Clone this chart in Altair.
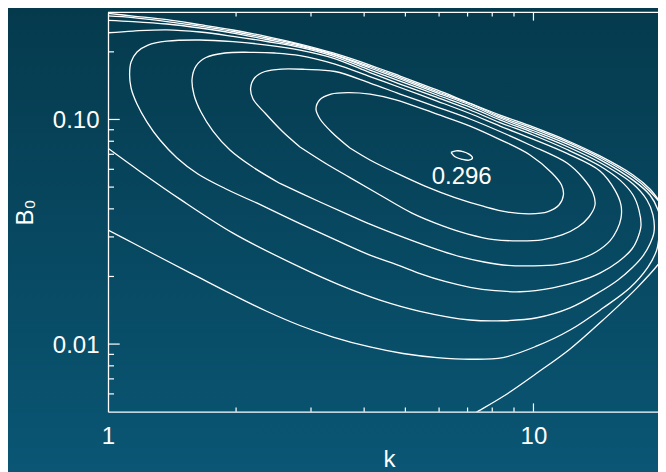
import altair as alt
import pandas as pd

# ---- contour lines (k, B0) ----
A_k = [6.398, 6.575, 6.829, 7.054, 7.19, 7.054, 6.792, 6.539, 6.398]
A_b = [0.0713, 0.0725, 0.0720, 0.0701, 0.0674, 0.0659, 0.0665, 0.0682, 0.0713]

B_k = [3.704, 3.361, 3.150, 3.082, 3.150, 3.343, 3.664, 4.128, 4.727, 5.932, 7.095, 8.343, 9.813,
       11.05, 11.64, 11.76, 11.48, 10.82, 9.813, 8.711, 7.651, 6.539, 5.559, 4.727, 4.128, 3.704]
B_b = [0.0746, 0.0875, 0.1005, 0.1113, 0.1227, 0.1298, 0.1318, 0.1298, 0.1227, 0.1057, 0.0935, 0.0814, 0.0695,
       0.0578, 0.0511, 0.0461, 0.0416, 0.0389, 0.0380, 0.0387, 0.0410, 0.0449, 0.0505, 0.0581, 0.0660, 0.0746]

C_k = [2.826, 2.564, 2.339, 2.192, 2.164, 2.215, 2.339, 2.564, 2.904, 3.416, 4.128, 4.857, 5.932, 7.095,
       8.343, 9.813, 11.99, 13.07, 13.80, 13.95, 13.50, 12.72, 11.67, 10.47, 9.196, 8.076, 7.017, 6.095,
       5.182, 4.358, 3.704, 3.236, 2.826]
C_b = [0.0754, 0.0888, 0.1068, 0.1233, 0.1381, 0.1537, 0.1635, 0.1677, 0.1672, 0.1635, 0.1453, 0.1298, 0.1136,
       0.1005, 0.0884, 0.0770, 0.0640, 0.0549, 0.0471, 0.0416, 0.0368, 0.0332, 0.0306, 0.0291, 0.0288, 0.0292,
       0.0309, 0.0337, 0.0383, 0.0461, 0.0551, 0.0640, 0.0754]

D_k = [2.536, 2.180, 1.935, 1.765, 1.654, 1.593, 1.576, 1.610, 1.699, 1.884, 2.157, 2.468, 2.826, 3.416,
       4.128, 4.857, 5.932, 7.095, 8.343, 9.972, 11.99, 14.33, 15.54, 16.06, 16.06, 15.71, 15.13, 14.02,
       12.72, 11.36, 9.972, 8.711, 7.651, 6.719, 5.923, 4.989, 4.128, 3.704, 3.150, 2.536]
D_b = [0.0519, 0.0617, 0.0731, 0.0888, 0.1079, 0.1285, 0.1514, 0.1729, 0.1887, 0.1977, 0.1991, 0.1977, 0.1926,
       0.1765, 0.1553, 0.1388, 0.1208, 0.1063, 0.0935, 0.0818, 0.0706, 0.0590, 0.0485, 0.0416, 0.0364, 0.0322,
       0.0288, 0.0257, 0.0237, 0.0226, 0.0223, 0.0224, 0.0232, 0.0245, 0.0264, 0.0297, 0.0342, 0.0374, 0.0429,
       0.0519]

E_k = [2.236, 1.884, 1.627, 1.453, 1.325, 1.235, 1.170, 1.133, 1.124, 1.133, 1.170, 1.242, 1.374, 1.645,
       1.967, 2.364, 2.826, 3.380, 4.128, 4.857, 5.932, 7.095, 8.343, 9.972, 11.99, 14.33, 15.97, 17.14,
       17.70, 17.89, 17.51, 17.04, 15.80, 14.33, 12.86, 11.11, 9.296, 8.120, 7.095, 6.194, 5.411, 4.857,
       4.128, 3.510, 2.826, 2.236]
E_b = [0.0425, 0.0493, 0.0572, 0.0674, 0.0810, 0.0974, 0.1172, 0.1381, 0.1593, 0.1802, 0.1997, 0.2145, 0.2231,
       0.2258, 0.2219, 0.2145, 0.2038, 0.1877, 0.1618, 0.1438, 0.1253, 0.1102, 0.0969, 0.0853, 0.0735, 0.0621,
       0.0537, 0.0461, 0.0395, 0.0335, 0.0291, 0.0265, 0.0232, 0.0207, 0.0191, 0.0178, 0.0171, 0.0173, 0.0179,
       0.0190, 0.0206, 0.0223, 0.0249, 0.0285, 0.0344, 0.0425]

F_k = [1.000, 1.145, 1.374, 1.645, 1.967, 2.364, 2.826, 3.380, 4.128, 4.857, 5.932, 7.095, 8.343, 9.972,
       11.99, 14.33, 17.14, 18.48, 19.09, 19.20, 18.78, 18.09, 17.04, 15.80, 14.33, 12.19, 10.19, 8.479,
       7.095, 5.411, 4.358, 3.510, 2.826, 1.967, 1.476, 1.189, 1.000]
F_b = [0.2433, 0.2476, 0.2507, 0.2451, 0.2345, 0.2224, 0.2095, 0.1916, 0.1660, 0.1483, 0.1285, 0.1136, 0.0995,
       0.0875, 0.0758, 0.0643, 0.0516, 0.0438, 0.0376, 0.0315, 0.0279, 0.0247, 0.0218, 0.0193, 0.0171, 0.0145,
       0.0131, 0.0127, 0.0128, 0.0140, 0.0157, 0.0183, 0.0220, 0.0312, 0.0442, 0.0587, 0.0744]

G_k = [1.000, 1.145, 1.376, 1.645, 1.967, 2.364, 2.826, 3.380, 4.128, 4.857, 5.932, 7.095, 8.343, 9.972,
       11.99, 14.33, 17.14, 18.78, 19.62, 19.94, 19.72, 19.48, 18.58, 16.86, 14.59, 12.19, 10.19, 8.479,
       7.095, 5.932, 4.935, 4.128, 3.380, 2.826, 2.360, 1.970, 1.645, 1.374, 1.147, 1.000]
G_b = [0.2763, 0.2729, 0.2661, 0.2554, 0.2426, 0.2270, 0.2123, 0.1946, 0.1695, 0.1514, 0.1312, 0.1160, 0.1015,
       0.0893, 0.0778, 0.0663, 0.0537, 0.0461, 0.0395, 0.0339, 0.0297, 0.0262, 0.0220, 0.0178, 0.0145, 0.01155,
       0.00981, 0.00871, 0.00856, 0.00871, 0.00908, 0.00971, 0.01075, 0.01210, 0.0140, 0.01654, 0.0197, 0.0235,
       0.0281, 0.0322]

H_k = [1.000, 1.145, 1.376, 1.645, 1.967, 2.364, 2.826, 3.380, 4.128, 4.857, 5.932, 7.095, 8.343, 9.972,
       11.99, 14.33, 17.14, 18.78, 19.83, 20.37, 20.59, 20.37, 19.83, 17.51, 14.57, 12.19, 10.19, 8.479,
       7.328, 7.095]
H_b = [0.2893, 0.2843, 0.2729, 0.2602, 0.2464, 0.2305, 0.2145, 0.1956, 0.1721, 0.1537, 0.1332, 0.1178, 0.1030,
       0.0912, 0.0794, 0.0677, 0.0554, 0.0478, 0.0425, 0.0376, 0.0306, 0.0257, 0.0232, 0.0178, 0.0128, 0.00951,
       0.00743, 0.00584, 0.00496, 0.00478]

J_k = [1.000, 1.145, 1.376, 1.645, 1.967, 2.364, 2.826, 3.380, 4.128, 4.857, 5.932, 6.979, 8.343, 9.972,
       11.99, 14.33, 17.14, 18.78, 20.16, 20.93]
J_b = [0.2970, 0.2887, 0.2780, 0.2642, 0.2502, 0.2340, 0.2167, 0.1977, 0.1747, 0.1561, 0.1353, 0.1196, 0.1046,
       0.0926, 0.0806, 0.0688, 0.0566, 0.0490, 0.0412, 0.0372]

# annotation of the maximum
label_k = [6.78]
label_b = [0.0516]
label_text = ["0.296"]

# axis tick values
x_major = [10]
x_minor = [2, 3, 4, 5, 6, 7, 8, 9]
y_major = [0.01, 0.1]
y_minor = [0.006, 0.007, 0.008, 0.009, 0.02, 0.03, 0.04, 0.05, 0.06, 0.07, 0.08, 0.09, 0.2]
x_labels = [1, 10]
y_labels = [0.01, 0.1]

contours = {"A": (A_k, A_b), "B": (B_k, B_b), "C": (C_k, C_b), "D": (D_k, D_b), "E": (E_k, E_b),
            "F": (F_k, F_b), "G": (G_k, G_b), "H": (H_k, H_b), "J": (J_k, J_b)}
rows = []
for name, (ks, bs) in contours.items():
    for i, (kv, bv) in enumerate(zip(ks, bs)):
        rows.append({"c": name, "i": i, "k": kv, "B": bv})
lines_df = pd.DataFrame(rows)
label_df = pd.DataFrame({"k": label_k, "B": label_b, "t": label_text})

W, H = 550, 399.4
FONT = "Liberation Sans"
WHITE = "#ffffff"

xscale = alt.Scale(type="log", domain=[1, 19.62], nice=False)
yscale = alt.Scale(type="log", domain=[0.005, 0.3], nice=False)

x_axis = alt.Axis(values=x_labels, format="d", labelFontSize=24, labelFont=FONT, labelColor=WHITE,
                  labelPadding=12.6, ticks=False, tickSize=0, grid=False, domain=True,
                  domainColor=WHITE, domainWidth=1.3, labelFlush=False, labelOverlap=False, zindex=2,
                  title="k", titleFont=FONT, titleFontSize=24, titleFontWeight="normal",
                  titleColor=WHITE, titleX=281, titleY=55.0, titleAlign="center",
                  titleBaseline="alphabetic")
y_axis = alt.Axis(values=y_labels, format=".2f", labelFontSize=24, labelFont=FONT, labelColor=WHITE,
                  labelPadding=9, labelOffset=1.3, ticks=False, tickSize=0, grid=False, domain=True,
                  domainColor=WHITE, domainWidth=1.3, labelFlush=False, labelOverlap=False, zindex=2,
                  title="B₀", titleFont=FONT, titleFontSize=24, titleFontWeight="normal",
                  titleColor=WHITE, titleX=-75.7, titleY=199.7, titleAngle=270, titleAlign="center",
                  titleBaseline="alphabetic")

X = alt.X("k:Q", scale=xscale, axis=x_axis)
Y = alt.Y("B:Q", scale=yscale, axis=y_axis)

gradient = alt.Gradient(gradient="linear",
                        stops=[alt.GradientStop(offset=0, color="#053A4D"),
                               alt.GradientStop(offset=1, color="#0A5674")],
                        x1=0, x2=0, y1=0, y2=1)
dummy = alt.Data(values=[{"a": 1}])

bg = alt.Chart(dummy).mark_rect(fill=gradient).encode(
    x=alt.value(-100), x2=alt.value(W + 10), y=alt.value(-4.3), y2=alt.value(H + 60.3))

lines = alt.Chart(lines_df).mark_line(color=WHITE, strokeWidth=1.3, clip=True,
                                      interpolate="catmull-rom").encode(
    x=X, y=Y, detail="c:N", order="i:Q")

label = alt.Chart(label_df).mark_text(font=FONT, fontSize=24, color=WHITE, align="center",
                                      baseline="alphabetic").encode(x=X, y=Y, text="t:N")


def xticks(vals, y0, y1):
    return alt.Chart(pd.DataFrame({"k": vals})).mark_rule(color=WHITE, strokeWidth=1.2).encode(
        x=X, y=alt.value(y0), y2=alt.value(y1))


def yticks(vals, x0, x1):
    return alt.Chart(pd.DataFrame({"B": vals})).mark_rule(color=WHITE, strokeWidth=1.2).encode(
        y=Y, x=alt.value(x0), x2=alt.value(x1))


ticks = [
    xticks(x_major, H, H - 8.3), xticks(x_minor, H, H - 4.2),
    xticks(x_major, 0, 8.3), xticks(x_minor, 0, 4.2),
    yticks(y_major, 0, 11.7), yticks(y_minor, 0, 6),
]

top_frame = alt.Chart(dummy).mark_rule(color=WHITE, strokeWidth=1.3).encode(
    x=alt.value(0), x2=alt.value(W), y=alt.value(0))

chart = alt.layer(bg, lines, label, *ticks, top_frame).properties(
    width=W, height=H,
    padding={"left": 100, "top": 4.3, "right": 0, "bottom": 60.3},
    autosize=alt.AutoSizeParams(type="none"),
    background="#084862",
).configure_view(strokeWidth=0)

chart.save("out.html", embed_options={"renderer": "svg", "actions": False})
